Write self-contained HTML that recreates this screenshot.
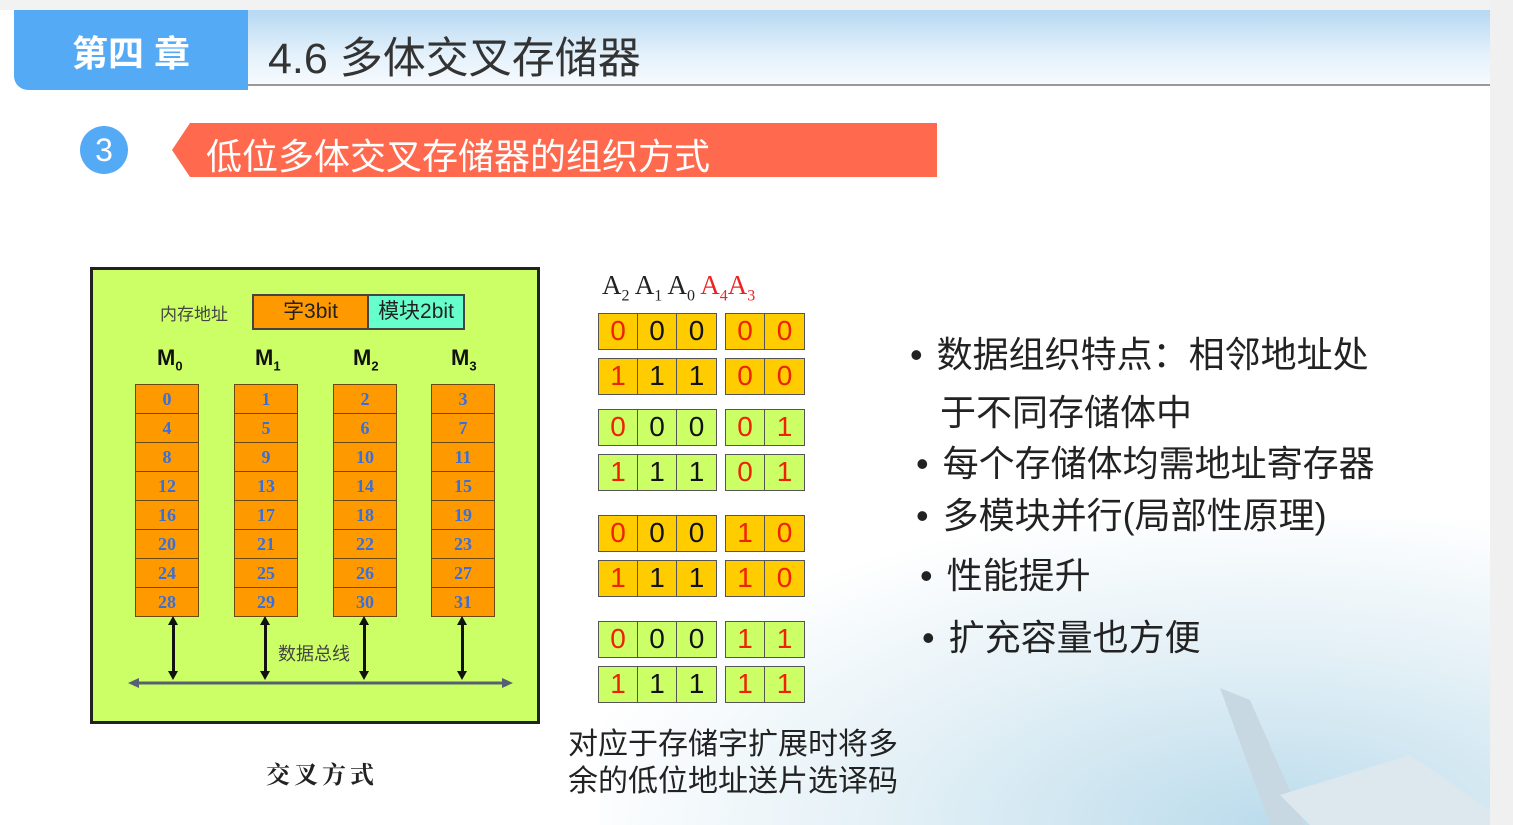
<!DOCTYPE html>
<html><head><meta charset="utf-8">
<style>
*{margin:0;padding:0;box-sizing:border-box}
body{width:1513px;height:825px;overflow:hidden;position:relative;background:#fff;font-family:"Liberation Sans","Noto Sans CJK SC",sans-serif}
.a{position:absolute}
.col{position:absolute;top:385px;width:64px}
.col div{height:30.5px;background:#ff9900;border:1.5px solid #6b4a10;margin-top:-1.5px;color:#3a6fd8;font-family:"Liberation Serif","Noto Serif CJK SC",serif;font-weight:bold;font-size:18px;text-align:center;line-height:28px}
.g{position:absolute;display:flex;height:37px;border:1.5px solid #555}
.g span{width:39px;border-right:1.5px solid #555;text-align:center;font-size:28px;line-height:34px;color:#111}
.g span:last-child{border-right:none}
.r{color:#ee2200!important}
.o{background:#ffcc00}.gr{background:#ccff66}
.bl{position:absolute;font-size:36px;color:#222;white-space:nowrap}
.v{position:absolute;width:3px;background:#111;top:620px;height:56px}
.v:before,.v:after{content:"";position:absolute;left:-4px;border-left:5.5px solid transparent;border-right:5.5px solid transparent}
.v:before{top:-4px;border-bottom:9px solid #111}
.v:after{bottom:-4px;border-top:9px solid #111}
</style></head><body>
<div class="a" style="left:0;top:0;width:1513px;height:10px;background:#f2f2f2"></div>
<div class="a" style="left:1490px;top:0;width:23px;height:825px;background:#f0f0f0"></div>
<div class="a" style="left:600px;top:520px;width:890px;height:305px;background:radial-gradient(ellipse at 75% 100%,#bcdcec 0%,#e3f0f6 40%,rgba(255,255,255,0) 75%)"></div>
<div class="a" style="left:248px;top:10px;width:1242px;height:76px;background:linear-gradient(180deg,#b5d8f2 0%,#e4f1fb 60%,#f6fafe 100%);border-bottom:2px solid #9a9a9a"></div>
<div class="a" style="left:14px;top:10px;width:234px;height:80px;background:#55aaf6;border-radius:0 0 0 14px;color:#fff;font-size:36px;font-weight:bold;text-align:center;line-height:88px">第四 章</div>
<div class="a" style="left:268px;top:24px;font-size:43px;color:#333;white-space:nowrap">4.6 多体交叉存储器</div>
<div class="a" style="left:80px;top:126px;width:48px;height:48px;border-radius:50%;background:#55aaf6;color:#fff;font-size:32px;text-align:center;line-height:48px">3</div>
<div class="a" style="left:172px;top:123px;width:765px;height:54px;background:#ff6a4e;clip-path:polygon(18px 0,100% 0,100% 100%,18px 100%,0 50%)"></div>
<div class="a" style="left:206px;top:128px;font-size:36px;color:#fff;white-space:nowrap">低位多体交叉存储器的组织方式</div>

<div class="a" style="left:90px;top:267px;width:450px;height:457px;background:#ccff66;border:3px solid #222"></div>
<div class="a" style="left:160px;top:300px;font-size:17px;color:#444">内存地址</div>
<div class="a" style="left:252px;top:294px;width:117px;height:36px;background:#ff9900;border:2px solid #444;text-align:center;font-size:21px;line-height:32px;color:#222">字3bit</div>
<div class="a" style="left:367px;top:294px;width:98px;height:36px;background:#66ffcc;border:2px solid #444;text-align:center;font-size:21px;line-height:32px;color:#222">模块2bit</div>
<div class="a" style="left:157px;top:345px;font-size:22px;font-weight:bold;color:#111">M<sub style="font-size:13px">0</sub></div>
<div class="a" style="left:255px;top:345px;font-size:22px;font-weight:bold;color:#111">M<sub style="font-size:13px">1</sub></div>
<div class="a" style="left:353px;top:345px;font-size:22px;font-weight:bold;color:#111">M<sub style="font-size:13px">2</sub></div>
<div class="a" style="left:451px;top:345px;font-size:22px;font-weight:bold;color:#111">M<sub style="font-size:13px">3</sub></div>
<div class="col" style="left:135px"><div>0</div><div>4</div><div>8</div><div>12</div><div>16</div><div>20</div><div>24</div><div>28</div></div>
<div class="col" style="left:234px"><div>1</div><div>5</div><div>9</div><div>13</div><div>17</div><div>21</div><div>25</div><div>29</div></div>
<div class="col" style="left:333px"><div>2</div><div>6</div><div>10</div><div>14</div><div>18</div><div>22</div><div>26</div><div>30</div></div>
<div class="col" style="left:431px"><div>3</div><div>7</div><div>11</div><div>15</div><div>19</div><div>23</div><div>27</div><div>31</div></div>
<div class="v" style="left:172px"></div><div class="v" style="left:264px"></div><div class="v" style="left:363px"></div><div class="v" style="left:461px"></div>
<div class="a" style="left:278px;top:640px;font-size:18px;color:#444">数据总线</div>
<svg class="a" style="left:128px;top:675px" width="385" height="16"><line x1="8" y1="8" x2="377" y2="8" stroke="#556070" stroke-width="3"/><polygon points="0,8 11,3 11,13" fill="#556070"/><polygon points="385,8 374,3 374,13" fill="#556070"/></svg>
<div class="a" style="left:266px;top:755px;font-size:24px;font-weight:bold;color:#222;font-family:'Noto Serif CJK SC',serif;letter-spacing:4px">交叉方式</div>

<div class="a" style="left:602px;top:270px;font-size:27px;font-family:'Liberation Serif',serif;color:#222;white-space:nowrap">A<sub style="font-size:16px">2</sub> A<sub style="font-size:16px">1</sub> A<sub style="font-size:16px">0</sub> <span style="color:#ee2222">A<sub style="font-size:16px">4</sub>A<sub style="font-size:16px">3</sub></span></div>

<div class="g o" style="left:598px;top:313px"><span class="r">0</span><span>0</span><span>0</span></div><div class="g o" style="left:725px;top:313px"><span class="r">0</span><span class="r">0</span></div>
<div class="g o" style="left:598px;top:358px"><span class="r">1</span><span>1</span><span>1</span></div><div class="g o" style="left:725px;top:358px"><span class="r">0</span><span class="r">0</span></div>
<div class="g gr" style="left:598px;top:409px"><span class="r">0</span><span>0</span><span>0</span></div><div class="g gr" style="left:725px;top:409px"><span class="r">0</span><span class="r">1</span></div>
<div class="g gr" style="left:598px;top:454px"><span class="r">1</span><span>1</span><span>1</span></div><div class="g gr" style="left:725px;top:454px"><span class="r">0</span><span class="r">1</span></div>
<div class="g o" style="left:598px;top:515px"><span class="r">0</span><span>0</span><span>0</span></div><div class="g o" style="left:725px;top:515px"><span class="r">1</span><span class="r">0</span></div>
<div class="g o" style="left:598px;top:560px"><span class="r">1</span><span>1</span><span>1</span></div><div class="g o" style="left:725px;top:560px"><span class="r">1</span><span class="r">0</span></div>
<div class="g gr" style="left:598px;top:621px"><span class="r">0</span><span>0</span><span>0</span></div><div class="g gr" style="left:725px;top:621px"><span class="r">1</span><span class="r">1</span></div>
<div class="g gr" style="left:598px;top:666px"><span class="r">1</span><span>1</span><span>1</span></div><div class="g gr" style="left:725px;top:666px"><span class="r">1</span><span class="r">1</span></div>

<div class="a" style="left:568px;top:726px;font-size:30px;line-height:37px;color:#222">对应于存储字扩展时将多<br>余的低位地址送片选译码</div>

<div class="bl" style="left:910px;top:326px">• <span style="margin-left:4px">数据组织特点：相邻地址处</span></div>
<div class="bl" style="left:940px;top:384px">于不同存储体中</div>
<div class="bl" style="left:916px;top:435px">• <span style="margin-left:4px">每个存储体均需地址寄存器</span></div>
<div class="bl" style="left:916px;top:487px">• <span style="margin-left:4px">多模块并行(局部性原理)</span></div>
<div class="bl" style="left:920px;top:547px">• <span style="margin-left:4px">性能提升</span></div>
<div class="bl" style="left:922px;top:609px">• <span style="margin-left:4px">扩充容量也方便</span></div>
<svg class="a" style="left:1210px;top:680px" width="280" height="145"><polygon points="10,8 40,20 95,145 60,145" fill="#c8d8e2"/><polygon points="70,115 200,75 280,130 280,145 100,145" fill="#dde8ee"/></svg>
</body></html>
